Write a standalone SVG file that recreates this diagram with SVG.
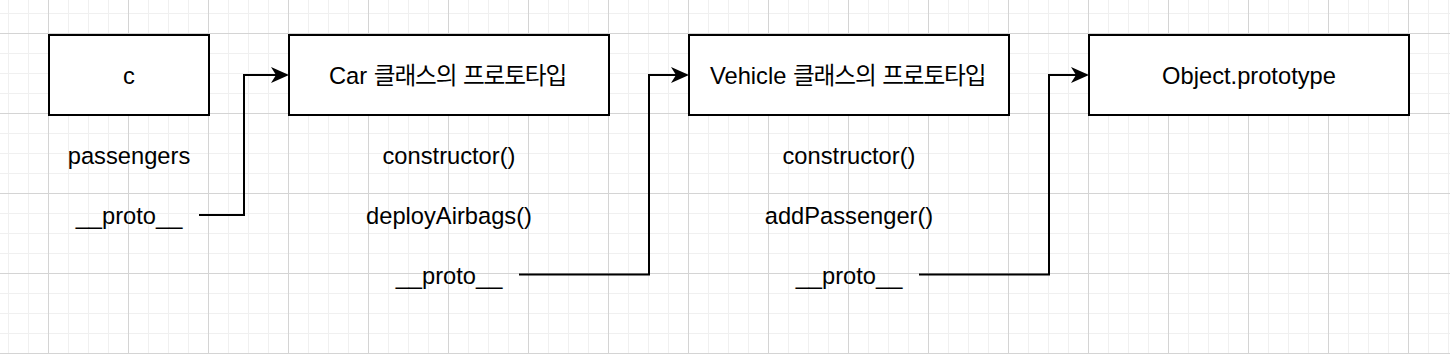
<svg xmlns="http://www.w3.org/2000/svg" width="1450" height="354" viewBox="0 0 1450 354">
  <defs>
    <pattern id="gridMinor" patternUnits="userSpaceOnUse" x="8" y="13" width="20" height="20">
      <rect x="0" y="0" width="1" height="20" fill="#f0f0f0"/>
      <rect x="0" y="0" width="20" height="1" fill="#f0f0f0"/>
    </pattern>
    <pattern id="gridMajor" patternUnits="userSpaceOnUse" x="48" y="33" width="80" height="80">
      <rect x="0" y="0" width="1" height="80" fill="#d4d4d4"/>
      <rect x="0" y="0" width="80" height="1" fill="#d4d4d4"/>
    </pattern>
    <marker id="arrow" markerUnits="userSpaceOnUse" viewBox="0 0 18 16" refX="13" refY="8" markerWidth="18" markerHeight="16" orient="auto">
      <path d="M0 0 L18 8 L0 16 L5 8 Z" fill="#000"/>
    </marker>
  </defs>
  <style>
    .box { fill: #ffffff; stroke: #000000; stroke-width: 2; }
    .lbl { font-family: "Liberation Sans", "Noto Sans CJK KR", sans-serif; font-size: 23.7px; fill: #000000; }
    .mid { text-anchor: middle; }
    .ko { font-family: "Noto Sans CJK KR", sans-serif; letter-spacing: -1.15px; }
    .conn { fill: none; stroke: #000000; stroke-width: 2; marker-end: url(#arrow); }
  </style>
  <rect x="0" y="0" width="1450" height="354" fill="#ffffff"/>
  <rect x="0" y="0" width="1450" height="354" fill="url(#gridMinor)"/>
  <rect x="0" y="0" width="1450" height="354" fill="url(#gridMajor)"/>

  <g id="connectors">
    <path class="conn" d="M199 215 H244 V75 H284"/>
    <path class="conn" d="M519 274.5 H649 V75 H684"/>
    <path class="conn" d="M919 274.5 H1049 V75 H1084"/>
  </g>

  <g id="node-c">
    <rect class="box" x="49" y="35" width="160" height="80"/>
    <text class="lbl mid" x="129" y="84">c</text>
    <text class="lbl mid" x="129" y="164">passengers</text>
    <text class="lbl mid" x="129" y="223.5">__proto__</text>
  </g>

  <g id="node-car">
    <rect class="box" x="289" y="35" width="320" height="80"/>
    <text class="lbl" x="329" y="84" xml:space="preserve">Car <tspan class="ko">클래스의</tspan> <tspan class="ko">프로토타입</tspan></text>
    <text class="lbl mid" x="449" y="164">constructor()</text>
    <text class="lbl mid" x="449" y="223.5">deployAirbags()</text>
    <text class="lbl mid" x="449" y="283.5">__proto__</text>
  </g>

  <g id="node-vehicle">
    <rect class="box" x="689" y="35" width="320" height="80"/>
    <text class="lbl" x="710" y="84" xml:space="preserve">Vehicle <tspan class="ko">클래스의</tspan> <tspan class="ko">프로토타입</tspan></text>
    <text class="lbl mid" x="849" y="164">constructor()</text>
    <text class="lbl mid" x="849" y="223.5">addPassenger()</text>
    <text class="lbl mid" x="849" y="283.5">__proto__</text>
  </g>

  <g id="node-object">
    <rect class="box" x="1089" y="35" width="320" height="80"/>
    <text class="lbl mid" x="1249" y="84">Object.prototype</text>
  </g>
</svg>
